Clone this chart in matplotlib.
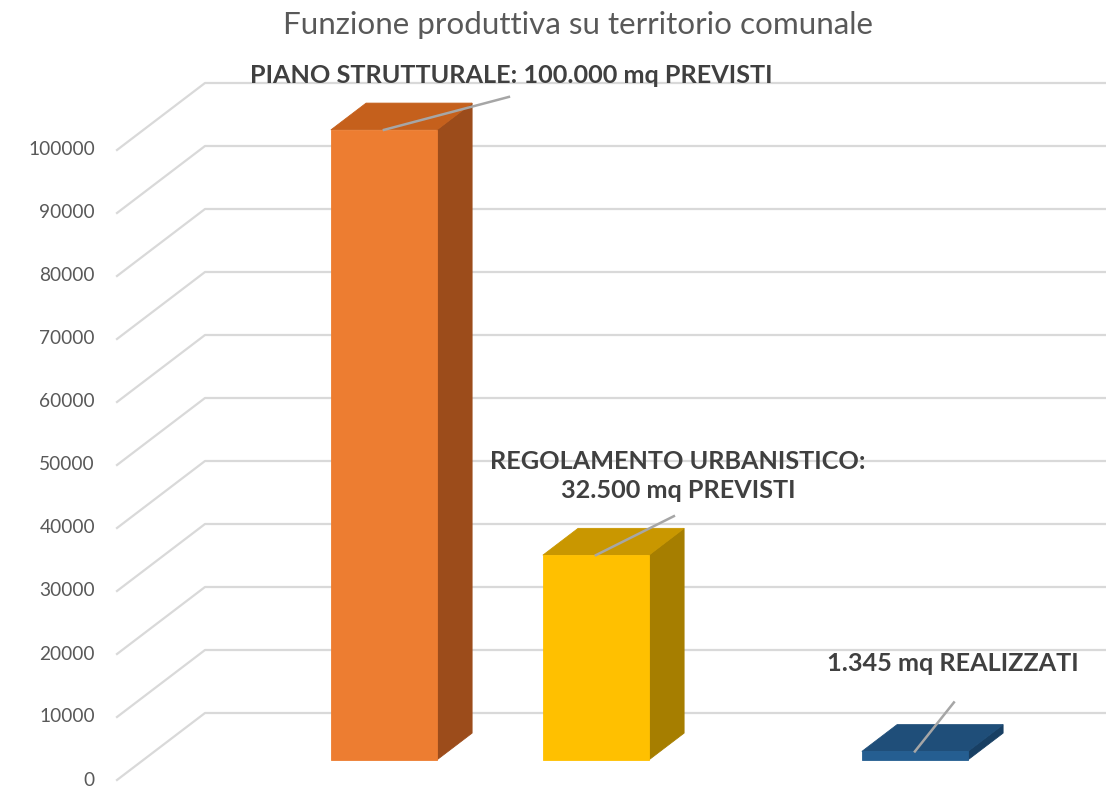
import numpy as np
import matplotlib
matplotlib.use("Agg")
import matplotlib.pyplot as plt
from matplotlib.patches import Polygon

# --- data -------------------------------------------------------------
categories = ["Piano Strutturale", "Regolamento Urbanistico", "Realizzati"]
values = [100000, 32500, 1345]
labels = [
    "PIANO STRUTTURALE: 100.000 mq PREVISTI",
    "REGOLAMENTO URBANISTICO:\n32.500 mq PREVISTI",
    "1.345 mq REALIZZATI",
]
y_ticks = list(range(0, 100001, 10000))
title = "Funzione produttiva su territorio comunale"

# --- styling / layout ---------------------------------------------------
front_colors = ["#ED7D31", "#FFC000", "#255E91"]
top_colors = ["#C5601C", "#C99700", "#1F4E79"]
side_colors = ["#9C4C1B", "#A67E00", "#183F63"]
grid_color = "#D9D9D9"
tick_color = "#595959"
label_color = "#404040"

W, H, DPI = 1106, 789, 100
slot_x = [357.5, 569.5, 888.5]   # bar centres on the front plane (layout units)
bar_w = 106
depth_vec = np.array([88.0, 67.0])  # depth of the 3D box in pixels (x right, y up)
bar_d0, bar_d1 = 0.30, 0.70         # bars occupy the middle of the depth
axis_x = 117                        # front-left corner of the floor/wall
px_per_unit = 0.0063                # vertical pixels per unit of value
zero_row = 9                        # pixel height of value 0 on the front plane

# leader-line start / text centre, offsets in pixels from the bar's top centre
leader_start = [(125, 33), (78, 39), (39, 49)]
text_offset = [(127, 54), (82, 79), (38, 88)]

fig = plt.figure(figsize=(W / DPI, H / DPI), dpi=DPI)
ax = fig.add_axes([0, 0, 1, 1])
ax.set_xlim(0, W)
ax.set_ylim(-zero_row / px_per_unit, (H - zero_row) / px_per_unit)
ax.axis("off")

scale = fig.dpi / 100.0


def pt(x, v, d=0.0, off=(0.0, 0.0)):
    """Project (x, value) at depth fraction d, plus a pixel offset, to data coords."""
    disp = ax.transData.transform((x, v))
    disp = disp + (d * depth_vec + np.asarray(off)) * scale
    return ax.transData.inverted().transform(disp)


# gridlines: diagonal on the left side wall, horizontal on the back wall
for v in y_ticks:
    p0 = pt(axis_x, v, 0)
    p1 = pt(axis_x, v, 1)
    p2 = pt(W, v, 1)
    ax.plot([p0[0], p1[0], p2[0]], [p0[1], p1[1], p2[1]],
            color=grid_color, lw=1.6, solid_joinstyle="round", zorder=1)
    lab = pt(axis_x, v, 0, off=(-22, 0))
    ax.text(lab[0], lab[1], f"{v}", ha="right", va="center",
            fontsize=13.8, color=tick_color, family="Lato")

# 3D-looking columns
for i, v in enumerate(values):
    c = slot_x[i]
    xl, xr = c - bar_w / 2, c + bar_w / 2
    front = [pt(xl, 0, bar_d0), pt(xr, 0, bar_d0), pt(xr, v, bar_d0), pt(xl, v, bar_d0)]
    top = [pt(xl, v, bar_d0), pt(xr, v, bar_d0), pt(xr, v, bar_d1), pt(xl, v, bar_d1)]
    side = [pt(xr, 0, bar_d0), pt(xr, v, bar_d0), pt(xr, v, bar_d1), pt(xr, 0, bar_d1)]
    for poly, col in ((side, side_colors[i]), (top, top_colors[i]), (front, front_colors[i])):
        ax.add_patch(Polygon(poly, closed=True, facecolor=col,
                             edgecolor=col, lw=0.6, zorder=3))

    # data label with leader line
    anchor = pt(c, v, bar_d0)
    start = pt(c, v, bar_d0, off=leader_start[i])
    ax.plot([anchor[0], start[0]], [anchor[1], start[1]],
            color="#A6A6A6", lw=1.8, zorder=4)
    tp = pt(c, v, bar_d0, off=text_offset[i])
    ax.text(tp[0], tp[1], labels[i], ha="center", va="center",
            fontsize=18.2, fontweight="bold", color=label_color,
            family="Lato", linespacing=1.35, zorder=5)

# title
ax.text(W / 2 + 25, (H - 25 - zero_row) / px_per_unit,
        title, ha="center", va="center", fontsize=22.6, color=tick_color, family="Lato")

fig.savefig("out.png", dpi=DPI)
